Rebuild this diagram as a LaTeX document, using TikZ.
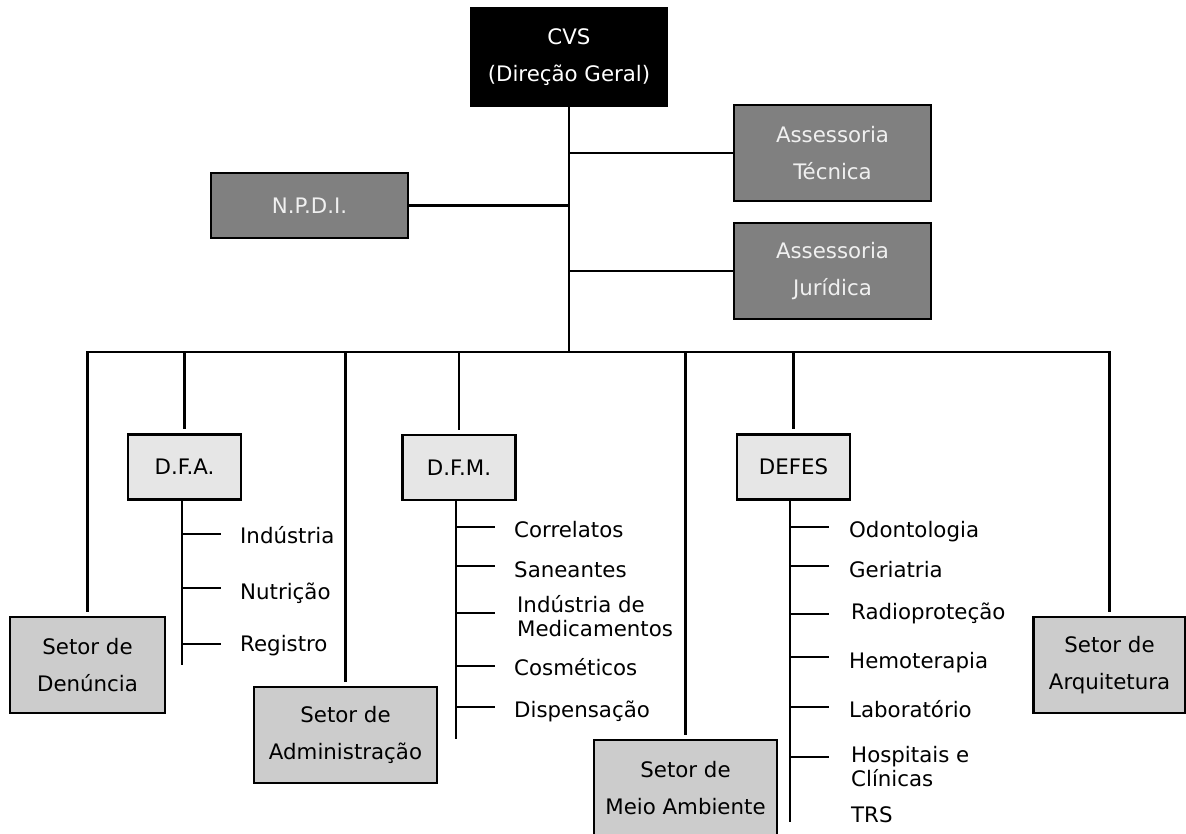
\documentclass[tikz,border=0pt]{standalone}
\usepackage{fontspec}
\setmainfont{DejaVu Sans}
\definecolor{staffgray}{HTML}{808080}
\definecolor{deptgray}{HTML}{E6E6E6}
\definecolor{sectorgray}{HTML}{CCCCCC}
\begin{document}
\begin{tikzpicture}[x=0.75pt,y=-0.75pt,
  line width=1.8pt,
  box/.style={draw=black,line width=1.8pt,align=center,inner sep=0pt,font=\fontsize{16}{28}\selectfont},
  topbox/.style={box,fill=black,text=white,minimum width=146.25pt,minimum height=73.5pt},
  staff/.style={box,fill=staffgray,text=white!94!black,minimum width=147.75pt,minimum height=72pt},
  dept/.style={box,fill=deptgray,minimum width=85pt,minimum height=48.5pt},
  sector/.style={box,fill=sectorgray,minimum height=72pt},
  item/.style={anchor=base west,inner sep=0pt,align=left,font=\fontsize{16}{18}\selectfont},
  drop/.style={shorten >=3pt}
]
\useasboundingbox (0,0) rectangle (1186,834);

% boxes
\node[topbox] (cvs) at (569,57) {CVS\\(Direção Geral)};
\node[staff] (at) at (832.5,153) {Assessoria\\Técnica};
\node[staff] (aj) at (832.5,271) {Assessoria\\Jurídica};
\node[staff,minimum height=48.75pt] (npdi) at (309.5,205.5) {N.P.D.I.};
\node[dept] (dfa) at (184.5,467) {D.F.A.};
\node[dept] (dfm) at (459,467.5) {D.F.M.};
\node[dept] (defes) at (793.5,467) {DEFES};
\node[sector,minimum width=116.25pt] (den) at (87.5,665) {Setor de\\Denúncia};
\node[sector,minimum width=137.25pt] (adm) at (345.5,735) {Setor de\\Administração};
\node[sector,minimum width=137.25pt] (mei) at (685.5,788) {Setor de\\Meio Ambiente};
\node[sector,minimum width=114pt] (arq) at (1109.5,665) {Setor de\\Arquitetura};

% trunk and bus
\coordinate (busy) at (0,352);
\draw (cvs.south) -- (cvs.south |- busy);
\draw (at.west) -- (at.west -| cvs.south);
\draw (aj.west) -- (aj.west -| cvs.south);
\draw (npdi.east) -- (npdi.east -| cvs.south);
\draw[line cap=rect] (den.north |- busy) -- (arq.north |- busy);
\foreach \n in {den,dfa,adm,dfm,mei,defes,arq}
  \draw[drop] (\n.north |- busy) -- (\n.north);

% D.F.A. list
\coordinate (dfaend) at (182,665);
\draw (dfa.south -| dfaend) -- (dfaend);
\foreach \ty/\by/\t [count=\i] in {534/543/Indústria,588/599/Nutrição,644/651/Registro}{
  \coordinate (dfat\i) at (182,\ty);
  \draw (dfat\i) -- ++(39,0);
  \node[item] (dfai\i) at (239,\by) {\t};
}

% D.F.M. list
\coordinate (dfmend) at (456,739);
\draw (dfm.south -| dfmend) -- (dfmend);
\foreach \ty [count=\i] in {527,566,613,666,707}{
  \coordinate (dfmt\i) at (456,\ty);
  \draw (dfmt\i) -- ++(39,0);
}
\node[item] (dfmi1) at (513,537) {Correlatos};
\node[item] (dfmi2) at (513,577) {Saneantes};
\node[item] (dfmi3) at (516,636) {Indústria de\\Medicamentos};
\node[item] (dfmi4) at (513,675) {Cosméticos};
\node[item] (dfmi5) at (513,717) {Dispensação};

% DEFES list
\coordinate (defend) at (790,822);
\draw (defes.south -| defend) -- (defend);
\foreach \ty [count=\i] in {527,566,614,657,707,757}{
  \coordinate (deft\i) at (790,\ty);
  \draw (deft\i) -- ++(39,0);
}
\node[item] (defi1) at (848,537) {Odontologia};
\node[item] (defi2) at (848,577) {Geriatria};
\node[item] (defi3) at (850,619) {Radioproteção};
\node[item] (defi4) at (848,668) {Hemoterapia};
\node[item] (defi5) at (848,717) {Laboratório};
\node[item] (defi6) at (850,786) {Hospitais e\\Clínicas};
\node[item] (defi7) at (850,822) {TRS};
\end{tikzpicture}
\end{document}
